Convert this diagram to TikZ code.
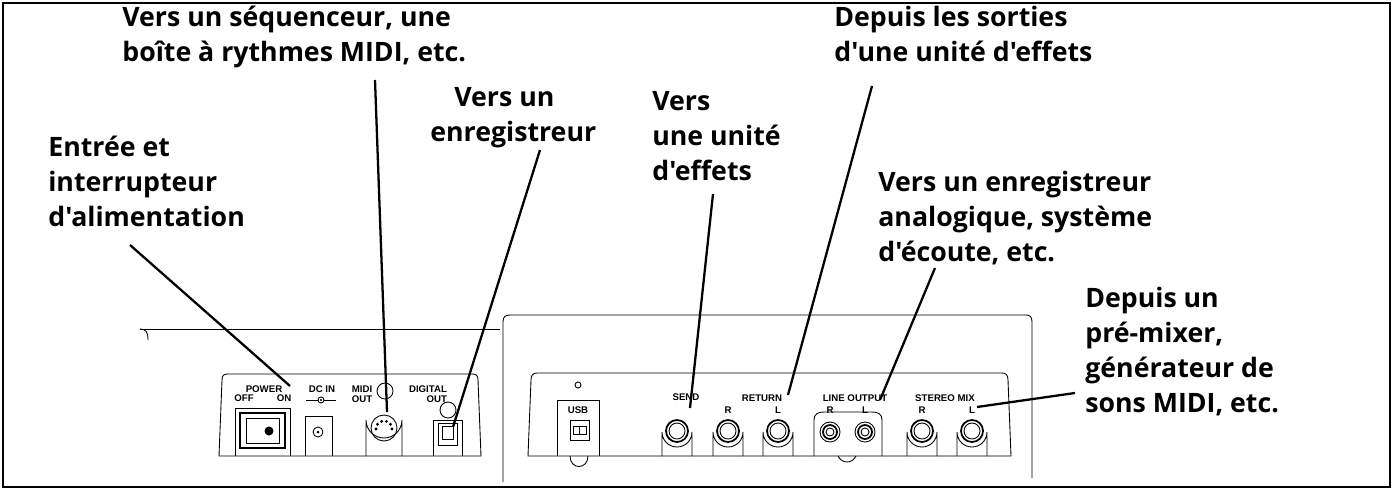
\documentclass[tikz,border=0pt]{standalone}
\usepackage{fontspec}
\setmainfont{Liberation Sans}
\newfontfamily\callfont{Open Sans}
\usetikzlibrary{calc}
\tikzset{
  callout/.style={anchor=north west,align=left,inner sep=0pt,font=\callfont\bfseries\fontsize{15.2}{19.9}\selectfont},
  tinylabel/.style={inner sep=0pt,font=\fontsize{5.5}{6}\selectfont\bfseries},
  leader/.style={line width=1.3pt},
  part/.style={line width=0.5pt},
  jack/.style={part,fill=white}
}
\begin{document}
\begin{tikzpicture}[x=0.02cm,y=-0.02cm]
        \useasboundingbox (0,0) rectangle (1393,490);
        \draw[line width=0.8pt] (3,3) rectangle (1390,487);

        % labels
        \node[callout] (power) at (48,136) {Entr\'ee et\\interrupteur\\d'alimentation};
        \node[callout] (seq) at (122,6) {Vers un s\'equenceur, une\\bo\^ite \`a rythmes MIDI, etc.};
        \node[callout] (rec) at (430,87) {\hspace*{0.9em}Vers un\\enregistreur};
        \node[callout] (fx) at (652,91) {Vers\\une unit\'e\\d'effets};
        \node[callout] (ret) at (834,6) {Depuis les sorties\\d'une unit\'e d'effets};
        \node[callout] (lineout) at (878,171) {Vers un enregistreur\\analogique, syst\`eme\\d'\'ecoute, etc.};
        \node[callout] (mix) at (1085,287) {Depuis un\\pr\'e-mixer,\\g\'en\'erateur de\\sons MIDI, etc.};

        % left body
        \draw[part] (140,329) -- (500,329);
        \draw[part] (140,329) .. controls (146,329) and (148,332) .. (148,340);
        \draw[part] (219,456) -- (222,380) .. controls (222,375) and (224,374) .. (228,374) -- (472,374) .. controls (476,374) and (478,375) .. (478,380) -- (481,456) -- cycle;

        % power switch
        \draw[part] (235,456) -- (235,408) -- (290,408) -- (290,456);
        \draw[part,line width=1pt] (240,413) rectangle (285,448);
        \draw[part] (246,418) rectangle (279,443);
        \fill (269,431) circle (4.5);
        \node[tinylabel] (powertxt) at (264,389) {POWER};
        \node[tinylabel] (offtxt) at (244,398) {OFF};
        \node[tinylabel] (ontxt) at (284,398) {ON};

        % dc in
        \draw[part] (305,456) -- (305,416) -- (332,416) -- (332,456);
        \draw[part] (318,432) circle (5);
        \fill (318,432) circle (1.5);
        \node[tinylabel] (dctxt) at (322,389) {DC IN};
        \draw[part] (306,400) -- (336,400);
        \draw[part,fill=white] (321,400) circle (3);
        \fill (321,400) circle (1.2);

        % midi out
        \draw[part] (366,456) -- (366,420) arc (180:0:18) -- (402,456);
        \draw[part] (384,428) circle (13);
        \foreach \a in {0,36,...,180}
          \draw[part] ($(384,429)+(\a+180:8)$) circle (1);
        \draw[part] (385,391) circle (8);
        \node[tinylabel,align=left] (miditxt) at (362,394) {MIDI\\OUT};

        % digital out
        \draw[part] (433,456) -- (433,420) -- (462,420) -- (462,456);
        \draw[part] (438,423) rectangle (457,445);
        \draw[part] (442,426) rectangle (453,439);
        \draw[part] (448,410) circle (8);
        \node[tinylabel,align=right] (digtxt) at (428,394) {DIGITAL\\OUT};

        % right body
        \draw[part] (503,482) -- (503,322) .. controls (503,317) and (505,315) .. (510,315) -- (1026,315) .. controls (1030,315) and (1032,317) .. (1032,322) -- (1032,478);
        \draw[part] (528,456) -- (531,380) .. controls (531,375) and (533,373) .. (537,373) -- (1002,373) .. controls (1006,373) and (1008,375) .. (1008,380) -- (1011,456) -- cycle;

        % usb
        \draw[part] (578,385) circle (3);
        \node[tinylabel] (usbtxt) at (578,410) {USB};
        \draw[part] (557,456) -- (557,400) -- (599,400) -- (599,456);
        \draw[part] (570,420) rectangle (589,440);
        \draw[part] (573,426) rectangle (586,434);
        \draw[part] (579.5,426) -- (579.5,434);
        \draw[part] (570,456) .. controls (570,470) and (588,470) .. (588,456);

        % line output bump
        \draw[part] (814,456) -- (814,420) .. controls (814,414) and (818,412) .. (824,412) -- (872,412) .. controls (878,412) and (882,414) .. (882,420) -- (882,456);
        \draw[part] (838,456) .. controls (842,464) and (852,464) .. (856,456);
        \foreach \x in {830,865} {
          \draw[part] (\x,432) circle (10);
          \draw[part,line width=1pt] (\x,432) circle (7);
          \draw[part] (\x,432) circle (4);
        }

        % phone jacks
        \foreach \x in {677,728,778,922,972} {
          \draw[part] (\x-15,456) -- (\x-15,432) arc (180:0:15) -- (\x+15,456);
          \draw[part,line width=1pt] (\x,431) circle (11);
          \draw[part] (\x,431) circle (8);
        }
        \node[tinylabel] (sendtxt) at (686,397) {SEND};
        \node[tinylabel] (rettxt) at (762,398) {RETURN};
        \node[tinylabel] (lotxt) at (855,398) {LINE OUTPUT};
        \node[tinylabel] (mixtxt) at (945,398) {STEREO MIX};
        \foreach \x/\t in {728/R,778/L,830/R,865/L,922/R,972/L}
          \node[tinylabel] at (\x,410) {\t};

        % leader lines
        \coordinate (powerend) at (290,386);
        \coordinate (midiend) at (387,412);
        \coordinate (digend) at (453,427);
        \coordinate (sendend) at (690,408);
        \coordinate (retend) at (788,395);
        \coordinate (loend) at (880,400);
        \coordinate (mixend) at (977,407);
        \draw[leader] (130,245) -- (powerend);
        \draw[leader] (375,80) -- (midiend);
        \draw[leader] (540,150) -- (digend);
        \draw[leader] (713,194) -- (sendend);
        \draw[leader] (872,86) -- (retend);
        \draw[leader] (935,268) -- (loend);
        \draw[leader] (1075,393) -- (mixend);
    \end{tikzpicture}
\end{document}
